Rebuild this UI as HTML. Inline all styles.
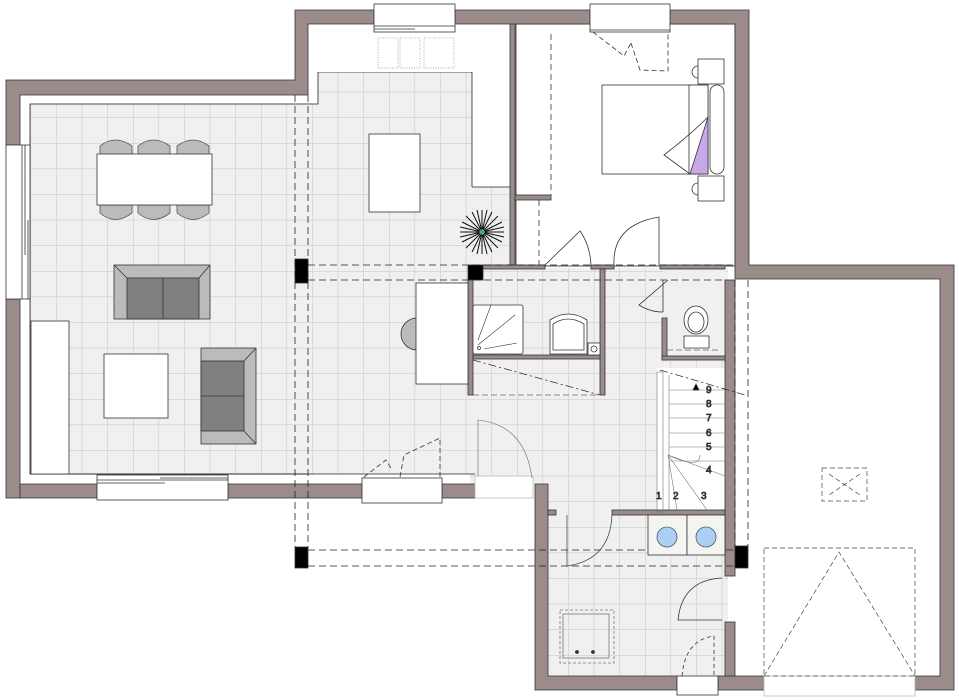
<!DOCTYPE html>
<html><head><meta charset="utf-8"><style>
html,body{margin:0;padding:0;background:#fff}
svg{display:block}
text{font-family:"Liberation Sans",sans-serif;font-size:10px;fill:#111}
</style></head><body>
<svg width="959" height="700" viewBox="0 0 959 700" xmlns="http://www.w3.org/2000/svg">
<defs>
<pattern id="t" patternUnits="userSpaceOnUse" x="5" y="15" width="25.6" height="25.6">
<rect width="25.6" height="25.6" fill="#f0f0f0"/>
<path d="M0 0H25.6M0 0V25.6" stroke="#c4c4c4" stroke-width="1"/>
</pattern>
</defs>
<g stroke="#333" stroke-width="0.8">
<!-- floors -->
<rect x="30" y="104" width="280" height="370" fill="url(#t)" stroke="#222"/>
<rect x="308" y="104" width="164" height="370" fill="url(#t)" stroke="none"/>
<rect x="318" y="72" width="154" height="402" fill="url(#t)" stroke="none"/>
<path d="M308 104H318V72H472" fill="none" stroke="#222"/>
<rect x="472" y="187" width="38" height="80" fill="url(#t)" stroke="none"/>
<rect x="470" y="268" width="258" height="216" fill="url(#t)" stroke="none"/>
<rect x="548" y="484" width="180" height="194" fill="url(#t)" stroke="none"/>
<line x1="30" y1="474" x2="475" y2="474" stroke="#222"/>
<rect x="516" y="24" width="219" height="242" fill="#fff" stroke="#222"/>
<rect x="663" y="268" width="62" height="90" fill="#f0f0f0" stroke="none"/>
<rect x="657" y="368" width="68" height="142" fill="#fff" stroke="none"/>
<rect x="735" y="279" width="205" height="397" fill="#fff" stroke="none"/>
<rect x="31" y="321" width="38" height="153" fill="#fff"/>
<rect x="318" y="24" width="154" height="48" fill="#fff" stroke="none"/>
<!-- walls -->
<g fill="#9b8b8b">
<path d="M6 80H295V10H374V24H308V95H20V145H6Z"/>
<rect x="6" y="299" width="14" height="199"/>
<path d="M20 484H97V498H20Z"/>
<rect x="228" y="484" width="134" height="14"/>
<rect x="442" y="484" width="33" height="14"/>
<path d="M455 10H590V24H455Z"/>
<path d="M670 10H749V265H954V690H915V676H940V279H735V24H670Z"/>
<path d="M535 484H548V676H677V690H535Z"/>
<rect x="718" y="676" width="46" height="14"/>
<rect x="725" y="280" width="10" height="296"/>
<rect x="725" y="622" width="10" height="54"/>
<rect x="510" y="24" width="5" height="241"/>
<rect x="515" y="195" width="36" height="5"/>
<rect x="483" y="265" width="62" height="4"/>
<rect x="591" y="265" width="23" height="4"/>
<rect x="660" y="265" width="65" height="4"/>
<rect x="468" y="279" width="5" height="116"/>
<rect x="600" y="269" width="5" height="126"/>
<rect x="473" y="355" width="127" height="4"/>
<rect x="662" y="318" width="5" height="42"/>
<rect x="662" y="356" width="63" height="4"/>
<rect x="612" y="510" width="113" height="5"/>
<rect x="548" y="510" width="8" height="5"/>
</g>
<!-- windows -->
<g fill="#fff">
<rect x="6" y="145" width="24" height="154"/>
<line x1="22" y1="145" x2="22" y2="299"/><line x1="25" y1="145" x2="25" y2="255"/><line x1="28" y1="220" x2="28" y2="299"/>
<rect x="97" y="475" width="131" height="25"/>
<line x1="97" y1="480" x2="228" y2="480"/><line x1="160" y1="478" x2="228" y2="478"/><line x1="97" y1="483" x2="165" y2="483"/>
<rect x="362" y="478" width="80" height="25"/>
<rect x="475" y="476" width="58" height="22" stroke="#bbb"/>
<rect x="374" y="4" width="81" height="28"/>
<line x1="374" y1="26" x2="455" y2="26"/><line x1="374" y1="29" x2="415" y2="29"/>
<rect x="590" y="4" width="80" height="28"/>
<line x1="590" y1="30" x2="670" y2="30"/>
<rect x="677" y="676" width="41" height="19"/>
<rect x="764" y="676" width="151" height="20" stroke="#bbb"/>
</g>
<!-- posts -->
<g fill="#000">
<rect x="295" y="259" width="13" height="24"/>
<rect x="468" y="265" width="15" height="15"/>
<rect x="295" y="547" width="13" height="21"/>
<rect x="735" y="546" width="13" height="22"/>
</g>
<!-- beams dashed -->
<g fill="none" stroke="#222" stroke-dasharray="7,4">
<line x1="295" y1="95" x2="295" y2="547"/><line x1="308" y1="95" x2="308" y2="547"/>
<line x1="308" y1="265" x2="735" y2="265"/><line x1="308" y1="280" x2="725" y2="280"/>
<line x1="308" y1="550" x2="735" y2="550"/><line x1="308" y1="566" x2="735" y2="566"/>
<line x1="735" y1="280" x2="735" y2="546"/><line x1="748" y1="280" x2="748" y2="546"/>
</g>
<!-- kitchen -->
<rect x="369" y="134" width="51" height="78" fill="#fff"/>
<g fill="none" stroke="#999" stroke-dasharray="1,1.5">
<rect x="378" y="38" width="20" height="30"/><rect x="400" y="38" width="20" height="30"/><rect x="424" y="38" width="30" height="30"/>
</g>
<line x1="472" y1="72" x2="472" y2="187" stroke="#222"/><line x1="472" y1="187" x2="510" y2="187" stroke="#222"/>
<!-- plant -->
<g stroke="#111" stroke-width="1">
<path d="M482 210V254M460 232H504M466 216L498 248M498 216L466 248M472 212L492 252M492 212L472 252M462 222L502 242M502 222L462 242M477 210L487 254M487 210L477 254M460 227L504 237M460 237L504 227"/>
</g>
<circle cx="482" cy="232" r="3" fill="#4a8"/>
<!-- dining -->
<g fill="#bbb" stroke="#555">
<path d="M100 155V146Q115 134 132 146V155Z"/><path d="M138 155V146Q153 134 170 146V155Z"/><path d="M177 155V146Q193 134 209 146V155Z"/>
<path d="M100 205V213Q115 226 132 213V205Z"/><path d="M138 205V213Q153 226 170 213V205Z"/><path d="M177 205V213Q193 226 209 213V205Z"/>
</g>
<rect x="97" y="154" width="115" height="51" fill="#fff"/>
<!-- sofa 1 -->
<rect x="114" y="265" width="96" height="54" fill="#bbb"/>
<rect x="127" y="278" width="72" height="41" fill="#808080"/><line x1="163" y1="278" x2="163" y2="319"/>
<line x1="114" y1="265" x2="127" y2="278"/><line x1="210" y1="265" x2="199" y2="278"/>
<rect x="104" y="354" width="64" height="64" fill="#fff"/>
<!-- sofa 2 -->
<rect x="201" y="348" width="55" height="96" fill="#bbb"/>
<rect x="201" y="361" width="43" height="70" fill="#808080"/><line x1="201" y1="396" x2="244" y2="396"/>
<line x1="256" y1="348" x2="244" y2="361"/><line x1="256" y1="444" x2="244" y2="431"/>
<!-- desk -->
<path d="M417 318A16 16 0 0 0 417 350Z" fill="#bbb"/>
<rect x="416" y="283" width="52" height="101" fill="#fff"/>
<!-- bedroom -->
<line x1="551" y1="34" x2="551" y2="195" stroke-dasharray="6,4" fill="none"/>
<line x1="539" y1="200" x2="539" y2="265" stroke-dasharray="6,4" fill="none"/>
<path d="M593 32L624 56L631 43M631 43L640 70L668 71V32" fill="none" stroke-dasharray="5,3"/>
<rect x="698" y="59" width="26" height="25" fill="#fff"/><rect x="698" y="176" width="26" height="25" fill="#fff"/>
<path d="M698 66A5 5 0 0 0 698 78M698 183A5 5 0 0 0 698 195" fill="none"/>
<rect x="602" y="85" width="106" height="89" fill="#fff"/>
<rect x="689" y="85" width="19" height="89" fill="#fff"/>
<path d="M708 117L690 174H708Z" fill="#c8a8e8"/>
<path d="M708 117Q690 135 664 155L690 174" fill="none"/>
<rect x="710" y="85" width="14" height="89" rx="7" fill="#fff"/>
<path d="M545 265L580 231Q590 245 591 265M614 265Q612 225 659 217V265" fill="none"/>
<!-- bath -->
<rect x="473" y="305" width="50" height="49" rx="2" fill="#fff"/>
<path d="M478 340L491 305M478 345L515 315M484 349L517 343" fill="none" stroke-width="0.6"/>
<circle cx="479" cy="348" r="1.5" fill="none"/>
<path d="M550 354V320Q568 308 587 320V354Z" fill="#fff"/><path d="M553 350V324Q568 314 584 324V350Z" fill="#fff"/>
<rect x="588" y="343" width="12" height="12" fill="#fff"/><circle cx="594" cy="349" r="3" fill="none"/>
<path d="M473 360L600 395" stroke-dasharray="8,3,2,3" fill="none"/>
<path d="M473 395H600" stroke-dasharray="6,3" fill="none" stroke="#666"/>
<!-- WC -->
<path d="M684 348V336H709V348Z" fill="#fff"/>
<ellipse cx="696" cy="320" rx="12" ry="14" fill="#fff"/><ellipse cx="696" cy="322" rx="8" ry="10" fill="#fff"/>
<path d="M668 280L639 305Q650 312 663 312" fill="none"/>
<line x1="663" y1="280" x2="663" y2="312"/>
<path d="M667 350L720 350" stroke="#666" stroke-dasharray="6,3"/>
<!-- stairs -->
<g fill="none" stroke="#777" stroke-width="0.6">
<rect x="657" y="372" width="6" height="140"/>
<path d="M669 390H725M669 404H725M669 418H725M669 433H725M669 447H725M669 461H725M669 375V510"/>
<path d="M668 455L725 476M668 455L707 510M668 455L677 510M668 455Q700 470 700 455"/>
</g>
<path d="M660 370L745 395" stroke-dasharray="8,3,2,3" fill="none" stroke="#333"/>
<path d="M693 390L696 384L699 390Z" fill="#000"/>
<text x="706" y="393">9</text><text x="706" y="407">8</text><text x="706" y="421">7</text><text x="706" y="436">6</text><text x="706" y="450">5</text><text x="706" y="473">4</text><text x="701" y="499">3</text><text x="673" y="499">2</text><text x="656" y="499">1</text>
<!-- living doors -->
<path d="M364 477L386 460L392 470M400 477L404 455L440 438V477" fill="none" stroke-dasharray="5,3"/>
<path d="M478 420Q525 425 532 478M478 420V476" fill="none" stroke="#666" stroke-width="0.6"/>
<!-- laundry -->
<g fill="#f4f4f0">
<rect x="648" y="515" width="39" height="40"/><rect x="687" y="515" width="38" height="40"/>
</g>
<circle cx="667" cy="537" r="10" fill="#acd0f4" stroke="#556"/><circle cx="706" cy="537" r="10" fill="#acd0f4" stroke="#556"/>
<path d="M567 566Q610 560 612 515M567 515V566" fill="none" stroke-width="0.7"/>
<path d="M722 578Q682 580 678 620H722" fill="none"/>
<path d="M682 676Q685 640 714 636V676" fill="none" stroke-dasharray="4,3"/>
<rect x="560" y="610" width="54" height="53" fill="none" stroke="#777" stroke-dasharray="3,2"/>
<rect x="563" y="614" width="46" height="44" fill="none" stroke="#777"/>
<circle cx="577" cy="652" r="1.5" fill="#333"/><circle cx="593" cy="652" r="1.5" fill="#333"/>
<!-- garage -->
<g fill="none" stroke="#444" stroke-width="0.7" stroke-dasharray="5,3">
<rect x="822" y="468" width="45" height="33"/>
<path d="M829 474L860 495M860 474L829 495"/>
<rect x="764" y="548" width="151" height="128"/>
<path d="M764 676L839 552L915 676"/>
</g>
</g>
</svg>
</body></html>
